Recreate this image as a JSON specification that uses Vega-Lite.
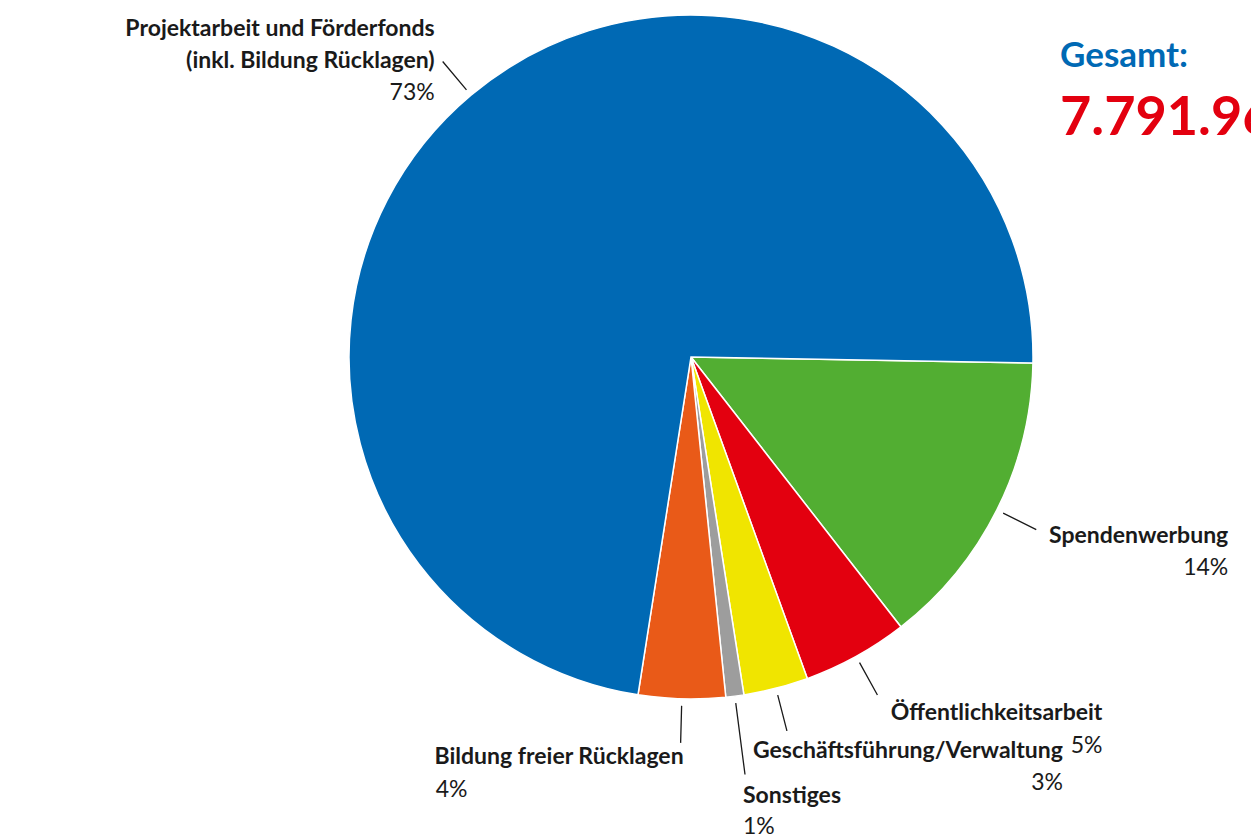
{
  "$schema": "https://vega.github.io/schema/vega-lite/v6.json",
  "autosize": {"type": "none"},
  "width": 1120,
  "height": 714,
  "padding": {"left": 131, "top": 0, "right": 0, "bottom": 124},
  "background": "white",
  "config": {"view": {"stroke": null}, "font": "Lato"},
  "title": {
    "text": "Gesamt:",
    "subtitle": "7.791.963 €",
    "anchor": "start",
    "frame": "group",
    "orient": "top",
    "offset": 0,
    "dx": 929,
    "dy": 146,
    "font": "Lato",
    "fontSize": 35,
    "fontWeight": "bold",
    "color": "#0069B4",
    "subtitleFont": "Lato",
    "subtitleFontSize": 54,
    "subtitleFontWeight": "bold",
    "subtitleColor": "#E3000F",
    "subtitlePadding": 18
  },
  "data": {
    "values": [
      {"Bereich": "Spendenwerbung", "Anteil": 14.2},
      {"Bereich": "Öffentlichkeitsarbeit", "Anteil": 5.0},
      {"Bereich": "Geschäftsführung/Verwaltung", "Anteil": 3.05},
      {"Bereich": "Sonstiges", "Anteil": 0.85},
      {"Bereich": "Bildung freier Rücklagen", "Anteil": 4.1},
      {"Bereich": "Projektarbeit und Förderfonds (inkl. Bildung Rücklagen)", "Anteil": 72.8}
    ]
  },
  "transform": [
    {"window": [{"op": "row_number", "as": "Nr"}]},
    {"stack": "Anteil", "groupby": [], "sort": [{"field": "Nr"}], "as": ["a0", "a1"]},
    {"calculate": "(datum.a0 + datum.a1) / 2", "as": "aMitte"},
    {"calculate": "format(datum.Anteil, '.0f') + '%'", "as": "Prozent"},
    {"calculate": "replace(datum.Bereich, ' (', '\\n(')", "as": "Name"}
  ],
  "layer": [
    {
      "mark": {"type": "arc", "radius": 342, "stroke": "white", "strokeWidth": 1.5},
      "encoding": {
        "theta": {"field": "a0", "type": "quantitative", "stack": null, "scale": {"domain": [0, 100], "range": [1.58825, 7.87144]}},
        "theta2": {"field": "a1"},
        "color": {
          "field": "Bereich",
          "type": "nominal",
          "legend": null,
          "scale": {
            "domain": ["Spendenwerbung", "Öffentlichkeitsarbeit", "Geschäftsführung/Verwaltung", "Sonstiges", "Bildung freier Rücklagen", "Projektarbeit und Förderfonds (inkl. Bildung Rücklagen)"],
            "range": ["#52AE32", "#E3000F", "#F0E500", "#9D9D9D", "#E95A18", "#0069B4"]
          }
        }
      }
    },
    {
      "transform": [{"filter": "datum.Bereich !== 'Sonstiges'"}],
      "mark": {"type": "arc", "radius": 386, "radius2": 349, "fillOpacity": 0, "stroke": "#1a1a1a", "strokeWidth": 1.3},
      "encoding": {
        "theta": {"field": "aMitte", "type": "quantitative", "stack": null},
        "theta2": {"field": "aMitte"}
      }
    },
    {
      "transform": [{"filter": "datum.Bereich === 'Sonstiges'"}],
      "mark": {"type": "arc", "radius": 421, "radius2": 349, "fillOpacity": 0, "stroke": "#1a1a1a", "strokeWidth": 1.3},
      "encoding": {
        "theta": {"field": "aMitte", "type": "quantitative", "stack": null},
        "theta2": {"field": "aMitte"}
      }
    },
    {
      "transform": [{"filter": "datum.Bereich === 'Spendenwerbung'"}],
      "layer": [
        {"mark": {"type": "text", "radius": 386, "align": "right", "baseline": "middle", "dx": 192, "dy": 6, "fontSize": 23, "fontWeight": "bold", "color": "#1a1a1a"},
         "encoding": {"theta": {"field": "aMitte", "type": "quantitative", "stack": null}, "text": {"field": "Name"}}},
        {"mark": {"type": "text", "radius": 386, "align": "right", "baseline": "middle", "dx": 192, "dy": 38, "fontSize": 23, "color": "#1a1a1a"},
         "encoding": {"theta": {"field": "aMitte", "type": "quantitative", "stack": null}, "text": {"field": "Prozent"}}}
      ]
    },
    {
      "transform": [{"filter": "datum.Bereich === 'Öffentlichkeitsarbeit'"}],
      "layer": [
        {"mark": {"type": "text", "radius": 386, "align": "right", "baseline": "middle", "dx": 225, "dy": 18, "fontSize": 23, "fontWeight": "bold", "color": "#1a1a1a"},
         "encoding": {"theta": {"field": "aMitte", "type": "quantitative", "stack": null}, "text": {"field": "Name"}}},
        {"mark": {"type": "text", "radius": 386, "align": "right", "baseline": "middle", "dx": 225, "dy": 51, "fontSize": 23, "color": "#1a1a1a"},
         "encoding": {"theta": {"field": "aMitte", "type": "quantitative", "stack": null}, "text": {"field": "Prozent"}}}
      ]
    },
    {
      "transform": [{"filter": "datum.Bereich === 'Geschäftsführung/Verwaltung'"}],
      "layer": [
        {"mark": {"type": "text", "radius": 386, "align": "right", "baseline": "middle", "dx": 276, "dy": 20, "fontSize": 23, "fontWeight": "bold", "color": "#1a1a1a"},
         "encoding": {"theta": {"field": "aMitte", "type": "quantitative", "stack": null}, "text": {"field": "Name"}}},
        {"mark": {"type": "text", "radius": 386, "align": "right", "baseline": "middle", "dx": 276, "dy": 52, "fontSize": 23, "color": "#1a1a1a"},
         "encoding": {"theta": {"field": "aMitte", "type": "quantitative", "stack": null}, "text": {"field": "Prozent"}}}
      ]
    },
    {
      "transform": [{"filter": "datum.Bereich === 'Sonstiges'"}],
      "layer": [
        {"mark": {"type": "text", "radius": 421, "align": "left", "baseline": "middle", "dx": -2, "dy": 21, "fontSize": 23, "fontWeight": "bold", "color": "#1a1a1a"},
         "encoding": {"theta": {"field": "aMitte", "type": "quantitative", "stack": null}, "text": {"field": "Name"}}},
        {"mark": {"type": "text", "radius": 421, "align": "left", "baseline": "middle", "dx": -2, "dy": 52, "fontSize": 23, "color": "#1a1a1a"},
         "encoding": {"theta": {"field": "aMitte", "type": "quantitative", "stack": null}, "text": {"field": "Prozent"}}}
      ]
    },
    {
      "transform": [{"filter": "datum.Bereich === 'Bildung freier Rücklagen'"}],
      "layer": [
        {"mark": {"type": "text", "radius": 386, "align": "right", "baseline": "middle", "dx": 3, "dy": 14, "fontSize": 23, "fontWeight": "bold", "color": "#1a1a1a"},
         "encoding": {"theta": {"field": "aMitte", "type": "quantitative", "stack": null}, "text": {"field": "Name"}}},
        {"mark": {"type": "text", "radius": 386, "align": "left", "baseline": "middle", "dx": -245, "dy": 47, "fontSize": 23, "color": "#1a1a1a"},
         "encoding": {"theta": {"field": "aMitte", "type": "quantitative", "stack": null}, "text": {"field": "Prozent"}}}
      ]
    },
    {
      "transform": [{"filter": "datum.Anteil > 50"}],
      "layer": [
        {"mark": {"type": "text", "radius": 386, "align": "right", "baseline": "middle", "dx": -8, "dy": -32, "lineBreak": "\n", "lineHeight": 32, "fontSize": 23, "fontWeight": "bold", "color": "#1a1a1a"},
         "encoding": {"theta": {"field": "aMitte", "type": "quantitative", "stack": null}, "text": {"field": "Name"}}},
        {"mark": {"type": "text", "radius": 386, "align": "right", "baseline": "middle", "dx": -8, "dy": 32, "fontSize": 23, "color": "#1a1a1a"},
         "encoding": {"theta": {"field": "aMitte", "type": "quantitative", "stack": null}, "text": {"field": "Prozent"}}}
      ]
    }
  ]
}
